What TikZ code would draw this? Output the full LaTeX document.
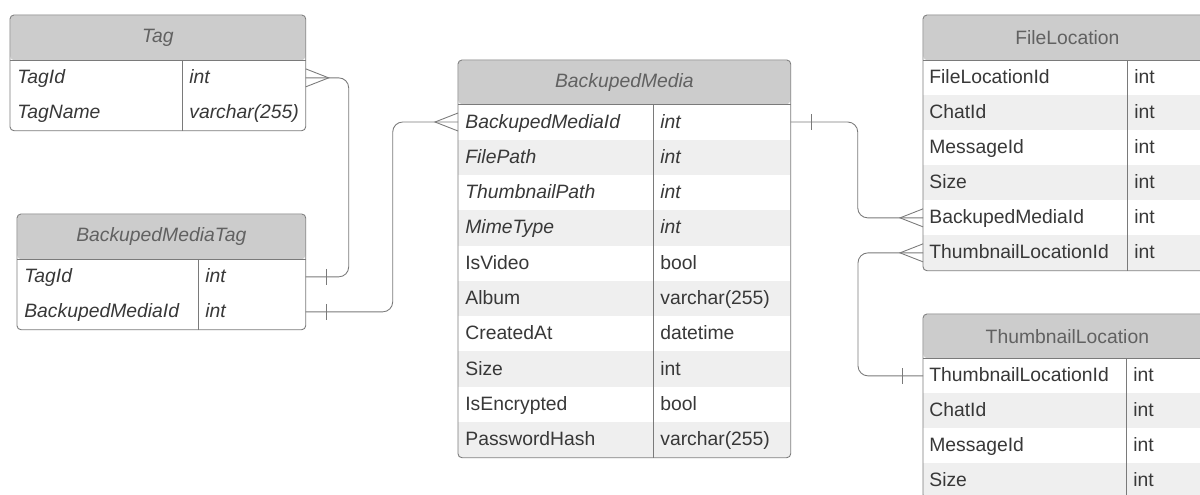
\documentclass[tikz,border=0pt]{standalone}
\usepackage{fontspec}
\setmainfont{Liberation Sans}
\usepackage{xcolor}
\usetikzlibrary{positioning,calc}
\definecolor{hdrgray}{HTML}{CCCCCC}
\definecolor{rowgray}{HTML}{EFEFEF}
\definecolor{linegray}{HTML}{7A7A7A}

\begin{document}
\begin{tikzpicture}[x=0.2mm,y=-0.2mm,font=\fontsize{11}{13}\selectfont,text=black!78]
\tikzstyle{hdr}=[fill=hdrgray,anchor=north west,inner sep=0pt,minimum height=9mm,text=black!62,rounded corners=0.8mm]
\tikzstyle{rowbox}=[anchor=north west,inner sep=0pt,minimum height=7mm]
\tikzstyle{fld}=[anchor=base west,inner sep=0pt]
\tikzstyle{frame}=[draw=linegray,line width=0.5pt,rounded corners=0.8mm]
\tikzstyle{rel}=[draw=linegray,line width=0.5pt,rounded corners=2mm]
\tikzset{crowfoot/.pic={\draw[linegray,line width=0.5pt] (0,-9) -- (23,0) -- (0,9);},
  onebar/.pic={\draw[linegray,line width=0.5pt] (21,-8) -- (21,8);}}
\useasboundingbox (0,0) rectangle (1200,494);
\clip (0,0) rectangle (1200,494);

% Tag
\node[hdr,minimum width=59mm] (tag) at (10,15) {\itshape Tag};
\foreach \fn/\ty [count=\i] in {TagId/int,TagName/varchar(255)}{
  \node[rowbox,minimum width=59mm,fill=white] (tag-\i) at (10,{60+35*(\i-1)}) {};
  \node[fld] (tagf-\i) at ($(tag-\i.west)+(7,6)$) {\itshape\fn};
  \node[fld] (tagt-\i) at ($(tag-\i.west)+(179,6)$) {\itshape\ty};
}
\draw[frame] (tag.north west) rectangle (tag-2.south east);
\draw[frame] (tag.south west) -- (tag.south east);
\draw[frame] ($(tag-1.north west)+(172,0)$) -- ($(tag-2.south west)+(172,0)$);

% BackupedMediaTag
\node[hdr,minimum width=57.6mm] (bmt) at (17,214) {\itshape BackupedMediaTag};
\foreach \fn/\ty [count=\i] in {TagId/int,BackupedMediaId/int}{
  \node[rowbox,minimum width=57.6mm,fill=white] (bmt-\i) at (17,{259+35*(\i-1)}) {};
  \node[fld] (bmtf-\i) at ($(bmt-\i.west)+(7,6)$) {\itshape\fn};
  \node[fld] (bmtt-\i) at ($(bmt-\i.west)+(188,6)$) {\itshape\ty};
}
\draw[frame] (bmt.north west) rectangle (bmt-2.south east);
\draw[frame] (bmt.south west) -- (bmt.south east);
\draw[frame] ($(bmt-1.north west)+(181,0)$) -- ($(bmt-2.south west)+(181,0)$);

% BackupedMedia
\node[hdr,minimum width=66.4mm,minimum height=8.8mm] (bm) at (458,60) {\itshape BackupedMedia};
\foreach \fn/\ty/\st [count=\i] in {BackupedMediaId/int/\itshape,FilePath/int/\itshape,
    ThumbnailPath/int/\itshape,MimeType/int/\itshape,IsVideo/bool/\upshape,
    Album/varchar(255)/\upshape,CreatedAt/datetime/\upshape,Size/int/\upshape,
    IsEncrypted/bool/\upshape,PasswordHash/varchar(255)/\upshape}{
  \ifodd\i\def\rf{white}\else\def\rf{rowgray}\fi
  \node[rowbox,minimum width=66.4mm,minimum height=7.06mm,fill=\rf] (bm-\i) at (458,{104+35.3*(\i-1)}) {};
  \node[fld] (bmf-\i) at ($(bm-\i.west)+(7,6)$) {\st\fn};
  \node[fld] (bmty-\i) at ($(bm-\i.west)+(202,6)$) {\st\ty};
}
\draw[frame] (bm.north west) rectangle (bm-10.south east);
\draw[frame] (bm.south west) -- (bm.south east);
\draw[frame] ($(bm-1.north west)+(195,0)$) -- ($(bm-10.south west)+(195,0)$);

% FileLocation
\node[hdr,minimum width=57.6mm] (fl) at (923,15) {FileLocation};
\foreach \fn/\ty [count=\i] in {FileLocationId/int,ChatId/int,MessageId/int,Size/int,
    BackupedMediaId/int,ThumbnailLocationId/int}{
  \ifodd\i\def\rf{white}\else\def\rf{rowgray}\fi
  \node[rowbox,minimum width=57.6mm,fill=\rf] (fl-\i) at (923,{60+35*(\i-1)}) {};
  \node[fld] (flf-\i) at ($(fl-\i.west)+(6,6)$) {\fn};
  \node[fld] (flt-\i) at ($(fl-\i.west)+(211,6)$) {\ty};
}
\draw[frame] (fl.north west) rectangle (fl-6.south east);
\draw[frame] (fl.south west) -- (fl.south east);
\draw[frame] ($(fl-1.north west)+(204,0)$) -- ($(fl-6.south west)+(204,0)$);

% ThumbnailLocation
\node[hdr,minimum width=57.6mm,minimum height=8.8mm] (tl) at (923,314) {ThumbnailLocation};
\foreach \fn/\ty [count=\i] in {ThumbnailLocationId/int,ChatId/int,MessageId/int,Size/int}{
  \ifodd\i\def\rf{white}\else\def\rf{rowgray}\fi
  \node[rowbox,minimum width=57.6mm,fill=\rf] (tl-\i) at (923,{358+35*(\i-1)}) {};
  \node[fld] (tlf-\i) at ($(tl-\i.west)+(6,6)$) {\fn};
  \node[fld] (tlt-\i) at ($(tl-\i.west)+(210,6)$) {\ty};
}
\draw[frame] (tl.north west) rectangle (tl-4.south east);
\draw[frame] (tl.south west) -- (tl.south east);
\draw[frame] ($(tl-1.north west)+(203,0)$) -- ($(tl-4.south west)+(203,0)$);

% relations
\draw[rel] (tag-1.east) -- ++(43,0) |- (bmt-1.east);
\draw[rel] (bmt-2.east) -- ++(87,0) |- (bm-1.west);
\draw[rel] (bm-1.east) -- ++(67,0) |- (fl-5.west);
\draw[rel] (fl-6.west) -- ++(-65,0) |- (tl-1.west);
\pic at (tag-1.east) {crowfoot};
\pic at (bmt-1.east) {onebar};
\pic at (bmt-2.east) {onebar};
\pic[rotate=180] at (bm-1.west) {crowfoot};
\pic at (bm-1.east) {onebar};
\pic[rotate=180] at (fl-5.west) {crowfoot};
\pic[rotate=180] at (fl-6.west) {crowfoot};
\pic[rotate=180] at (tl-1.west) {onebar};
\end{tikzpicture}
\end{document}
